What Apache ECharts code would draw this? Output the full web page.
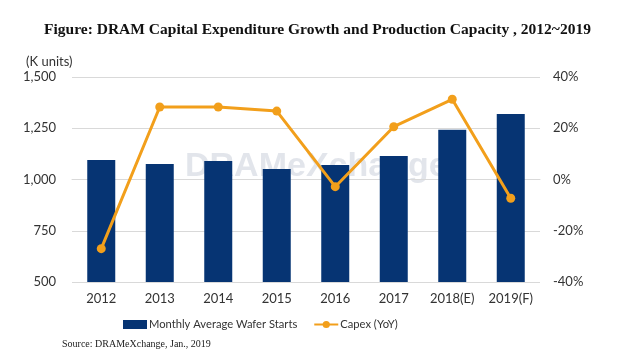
<!DOCTYPE html>
<html><head><meta charset="utf-8">
<script src="https://cdn.jsdelivr.net/npm/echarts@6/dist/echarts.min.js"></script>
<style>html,body{margin:0;padding:0;background:#fff}#c{width:635px;height:364px}</style>
</head><body><div id="c"></div>
<script>
const categories = ['2012','2013','2014','2015','2016','2017','2018(E)','2019(F)'];
const waferStarts = [1095, 1076, 1090, 1051, 1071, 1115, 1243, 1320];
const capexYoY = [-27, 28.3, 28.3, 26.7, -2.8, 20.6, 31.3, -7.3];
const leftTicks = [500, 750, 1000, 1250, 1500];
const rightTicks = [-40, -20, 0, 20, 40];

const chart = echarts.init(document.getElementById('c'));
const axisFont = 'Lato, Open Sans, sans-serif';
chart.setOption({
  animation: false,
  backgroundColor: '#fff',
  title: {
    text: 'Figure: DRAM Capital Expenditure Growth and Production Capacity , 2012~2019',
    left: 'center', top: 17,
    textStyle: {fontFamily: 'Liberation Serif, serif', fontWeight: 'bold', fontSize: 15.5, color: '#111'}
  },
  graphic: [
    {type: 'text', left: 26, top: 55, style: {text: '(K units)', font: '13px ' + axisFont, fill: '#333'}},
    {type: 'text', left: 62, top: 339, style: {text: 'Source: DRAMeXchange, Jan., 2019', font: '10px Liberation Serif, serif', fill: '#222'}},
    {type: 'text', left: 185, top: 150, z: 0, style: {text: 'DRAMeXchange', font: 'bold 34px Liberation Sans, sans-serif', fill: 'rgba(140,150,175,0.25)'}}
  ],
  legend: {
    top: 314, left: 118, itemGap: 16, itemWidth: 24, itemHeight: 9,
    textStyle: {fontFamily: axisFont, fontSize: 11.2, color: '#333', padding: [0, 0, 0, -3]},
    data: [{name: 'Monthly Average Wafer Starts', icon: 'rect'}, {name: 'Capex (YoY)'}]
  },
  grid: {left: 72, right: 95, top: 77, bottom: 82},
  xAxis: {
    type: 'category', data: categories,
    axisLine: {lineStyle: {color: '#d9d9d9'}}, axisTick: {show: false},
    axisLabel: {fontFamily: axisFont, fontSize: 13, color: '#333', margin: 10}
  },
  yAxis: [
    {type: 'value', min: 500, max: 1500, interval: 250,
     axisLabel: {fontFamily: axisFont, fontSize: 13, color: '#333', formatter: v => v.toLocaleString('en-US'), margin: 16},
     splitLine: {lineStyle: {color: '#d9d9d9'}}, axisLine: {show: false}, axisTick: {show: false}},
    {type: 'value', min: -40, max: 40, interval: 20,
     axisLabel: {fontFamily: axisFont, fontSize: 13, color: '#333', formatter: '{value}%', margin: 13},
     splitLine: {show: false}, axisLine: {show: false}, axisTick: {show: false}}
  ],
  series: [
    {name: 'Monthly Average Wafer Starts', type: 'bar', data: waferStarts, barWidth: 28,
     itemStyle: {color: '#063473'}, z: 2},
    {name: 'Capex (YoY)', type: 'line', yAxisIndex: 1, data: capexYoY,
     symbol: 'circle', symbolSize: 9, lineStyle: {color: '#F29F1B', width: 3},
     itemStyle: {color: '#F29F1B'}, z: 3}
  ]
});
</script></body></html>
